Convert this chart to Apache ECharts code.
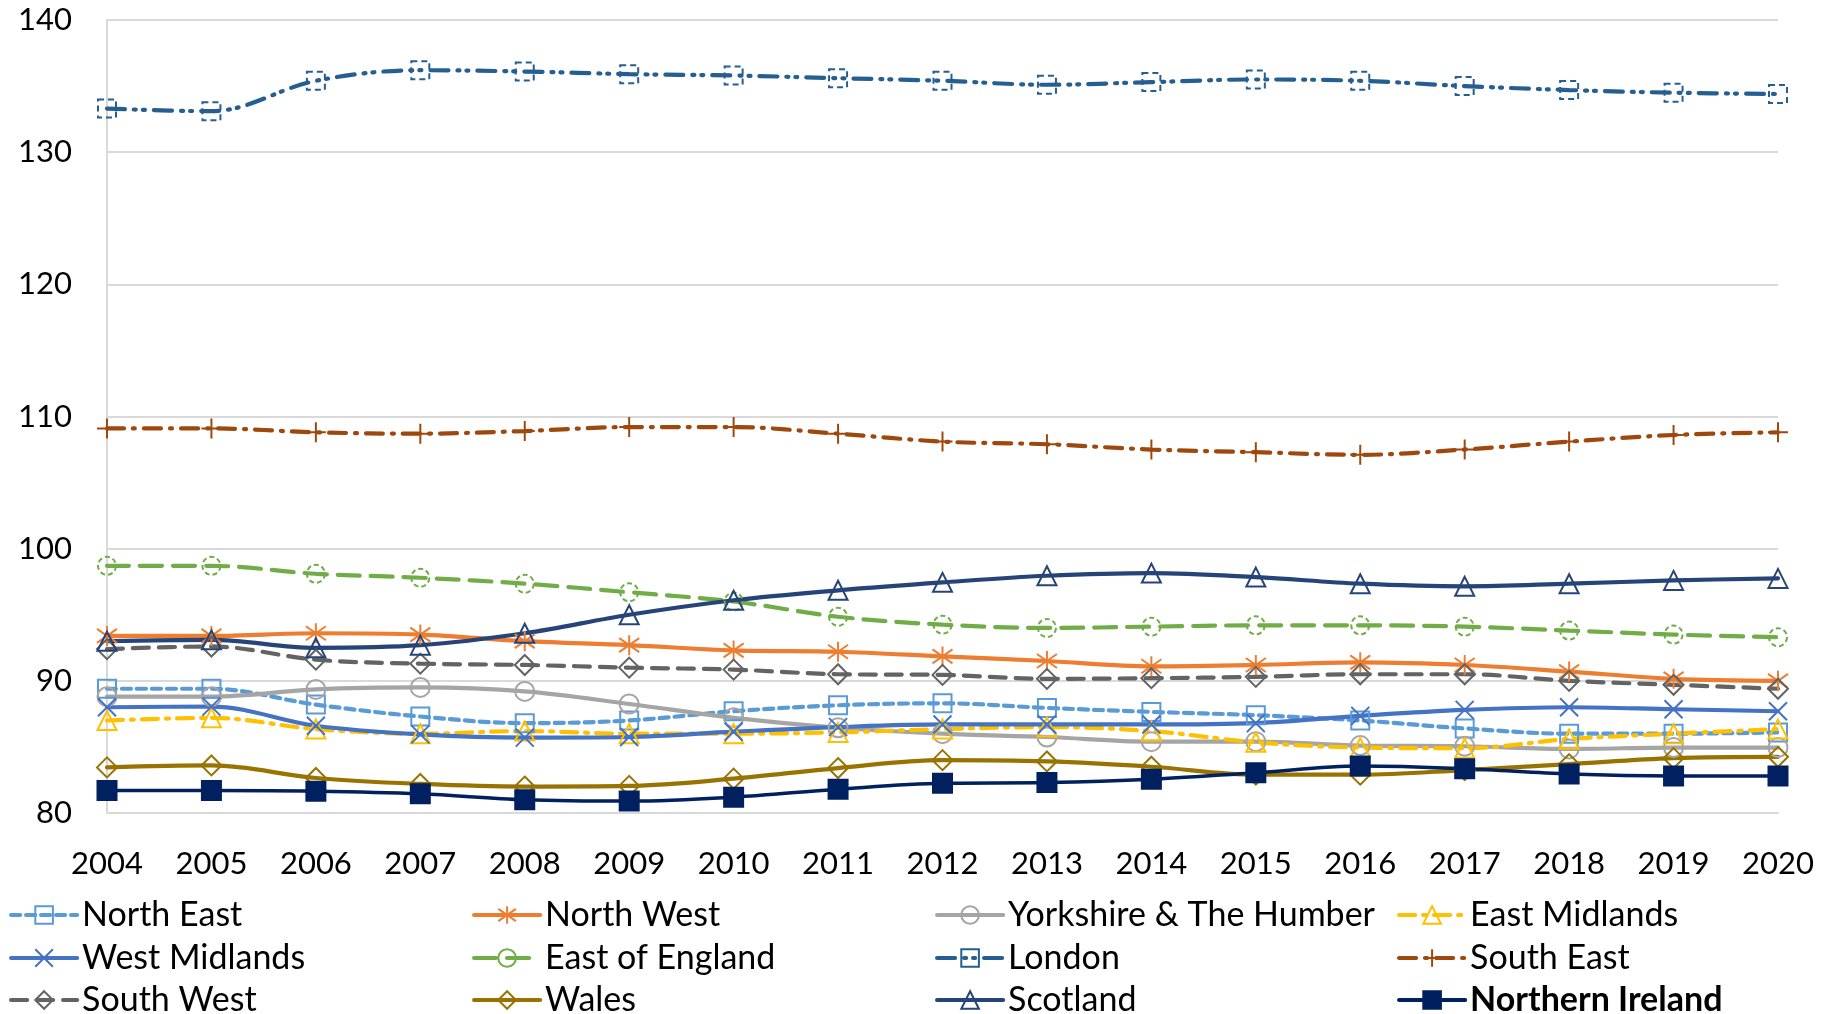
<!DOCTYPE html>
<html>
	<head>
		<meta charset="utf-8">
		<title>Regional index 2004-2020</title>
		<style type="text/css">
			html, body {
				margin: 0;
				padding: 0;
				background: #ffffff;
			}
			#main {
				width: 1826px;
				height: 1014px;
			}
		</style>
	</head>
	<body>
		<div id="main"></div>
		<script src="https://cdn.jsdelivr.net/npm/echarts@6.0.0/dist/echarts.min.js"></script>
		<script>
			// years on the x axis
			var years = ['2004', '2005', '2006', '2007', '2008', '2009', '2010', '2011', '2012', '2013', '2014', '2015', '2016', '2017', '2018', '2019', '2020'];

			// values, one list per region
			var northEast = [89.4, 89.4, 88.2, 87.3, 86.8, 87.0, 87.7, 88.15, 88.3, 87.95, 87.65, 87.4, 87.0, 86.4, 86.0, 86.0, 86.1];
			var northWest = [93.4, 93.4, 93.6, 93.5, 93.0, 92.7, 92.3, 92.2, 91.85, 91.5, 91.1, 91.2, 91.4, 91.2, 90.7, 90.15, 90.0];
			var yorkshire = [88.8, 88.8, 89.35, 89.5, 89.2, 88.25, 87.2, 86.45, 86.0, 85.75, 85.4, 85.4, 85.1, 85.05, 84.85, 84.95, 84.95];
			var eastMidlands = [87.0, 87.2, 86.35, 86.0, 86.2, 86.0, 86.0, 86.1, 86.35, 86.5, 86.2, 85.35, 84.95, 84.9, 85.6, 86.0, 86.35];
			var westMidlands = [88.0, 88.05, 86.6, 85.95, 85.7, 85.75, 86.15, 86.5, 86.7, 86.7, 86.7, 86.8, 87.35, 87.8, 88.0, 87.85, 87.7];
			var eastOfEngland = [98.7, 98.7, 98.1, 97.8, 97.35, 96.7, 96.0, 94.85, 94.25, 94.0, 94.1, 94.2, 94.2, 94.1, 93.8, 93.5, 93.3];
			var london = [133.3, 133.1, 135.4, 136.2, 136.1, 135.9, 135.8, 135.6, 135.4, 135.1, 135.3, 135.5, 135.4, 135.0, 134.7, 134.5, 134.4];
			var southEast = [109.1, 109.1, 108.8, 108.7, 108.9, 109.2, 109.2, 108.7, 108.1, 107.9, 107.5, 107.3, 107.1, 107.5, 108.1, 108.6, 108.8];
			var southWest = [92.4, 92.6, 91.6, 91.3, 91.2, 91.0, 90.85, 90.5, 90.45, 90.15, 90.2, 90.3, 90.5, 90.5, 90.0, 89.7, 89.4];
			var wales = [83.45, 83.6, 82.65, 82.2, 82.0, 82.05, 82.6, 83.4, 84.0, 83.9, 83.5, 82.9, 82.9, 83.25, 83.7, 84.15, 84.25];
			var scotland = [93.0, 93.1, 92.5, 92.7, 93.6, 95.0, 96.1, 96.85, 97.45, 97.95, 98.15, 97.85, 97.35, 97.15, 97.35, 97.6, 97.75];
			var northernIreland = [81.7, 81.7, 81.65, 81.45, 81.0, 80.9, 81.2, 81.8, 82.25, 82.3, 82.55, 83.05, 83.55, 83.35, 82.95, 82.8, 82.8];

			var yTicks = [80, 90, 100, 110, 120, 130, 140];

			// legend order, as it reads row by row in the picture
			var legendRows = [
				['North East', 'North West', 'Yorkshire & The Humber', 'East Midlands'],
				['West Midlands', 'East of England', 'London', 'South East'],
				['South West', 'Wales', 'Scotland', 'Northern Ireland']
			];

			var FONT = 'Lato';
			var NONE = 'rgba(0,0,0,0)';

			// marker shapes that Excel has and ECharts lacks
			var ASTERISK = 'path://M0,-10L0,10M-7,-7L7,7M-7,7L7,-7';
			var CROSS = 'path://M-10,-10L10,10M-10,10L10,-10';
			var PLUS = 'path://M0,-10L0,10M-10,0L10,0';

			var makeSeries = function(name, data, color, dash, symbol, size, filled, markerDash, lineWidth) {
				return {
					name: name,
					type: 'line',
					data: data,
					smooth: 0.35,
					symbol: symbol,
					symbolSize: size,
					showAllSymbol: true,
					lineStyle: {
						color: color,
						width: lineWidth || 4.2,
						type: dash,
						cap: 'round'
					},
					itemStyle: {
						color: filled ? color : NONE,
						borderColor: color,
						borderWidth: 2,
						borderType: markerDash || 'solid'
					},
					emphasis: { disabled: true }
				};
			};

			var series = [
				makeSeries('North East', northEast, '#5B9BD5', [9, 6], 'rect', 18, false),
				makeSeries('North West', northWest, '#ED7D31', 'solid', ASTERISK, 20, false),
				makeSeries('Yorkshire & The Humber', yorkshire, '#A5A5A5', 'solid', 'circle', 19, false),
				makeSeries('East Midlands', eastMidlands, '#FFC000', [16, 8, 3, 8], 'triangle', 19, false),
				makeSeries('West Midlands', westMidlands, '#4472C4', 'solid', CROSS, 18, false),
				makeSeries('East of England', eastOfEngland, '#70AD47', [22, 11], 'circle', 18, false, [5, 3]),
				makeSeries('London', london, '#255E91', [18, 9, 2, 7, 2, 9], 'rect', 18, false, [6, 4]),
				makeSeries('South East', southEast, '#9E480E', [17, 9, 2, 9], PLUS, 20, false),
				makeSeries('South West', southWest, '#636363', [16, 10], 'diamond', 20, false),
				makeSeries('Wales', wales, '#997300', 'solid', 'diamond', 20, false),
				makeSeries('Scotland', scotland, '#264478', 'solid', 'triangle', 19, false),
				makeSeries('Northern Ireland', northernIreland, '#002060', 'solid', 'rect', 19, true, null, 3.5)
			];

			// one small legend per entry so the grid of 4 columns x 3 rows is fixed
			var colLeft = [9, 472, 935, 1397];
			var rowTop = [897, 940, 982];
			var legends = [];
			legendRows.forEach(function(row, r) {
				row.forEach(function(name, c) {
					legends.push({
						left: colLeft[c],
						top: rowTop[r],
						padding: 0,
						itemWidth: 66,
						itemHeight: 22,
						selectedMode: false,
						lineStyle: { width: 4.2 },
						data: [{
							name: name,
							textStyle: { fontWeight: name == 'Northern Ireland' ? 'bold' : 'normal' }
						}],
						textStyle: {
							fontFamily: FONT,
							fontSize: 34,
							color: '#000',
							lineHeight: 36
						}
					});
				});
			});

			var chart = echarts.init(document.getElementById('main'));
			chart.setOption({
				animation: false,
				backgroundColor: '#ffffff',
				legend: legends,
				grid: {
					left: 107,
					right: 48,
					top: 20,
					bottom: 201,
					containLabel: false
				},
				xAxis: {
					type: 'category',
					data: years,
					boundaryGap: false,
					axisLine: { show: true, lineStyle: { color: '#D9D9D9', width: 2 } },
					axisTick: { show: false },
					axisLabel: {
						fontFamily: FONT,
						fontSize: 31,
						color: '#000',
						margin: 35
					},
					splitLine: { show: false }
				},
				yAxis: {
					type: 'value',
					min: yTicks[0],
					max: yTicks[yTicks.length - 1],
					interval: 10,
					axisLine: { show: true, lineStyle: { color: '#D9D9D9', width: 2 } },
					axisTick: { show: false },
					axisLabel: {
						fontFamily: FONT,
						fontSize: 31,
						color: '#000',
						margin: 35
					},
					splitLine: { show: true, lineStyle: { color: '#D9D9D9', width: 2 } }
				},
				series: series
			});
		</script>
	</body>
</html>
